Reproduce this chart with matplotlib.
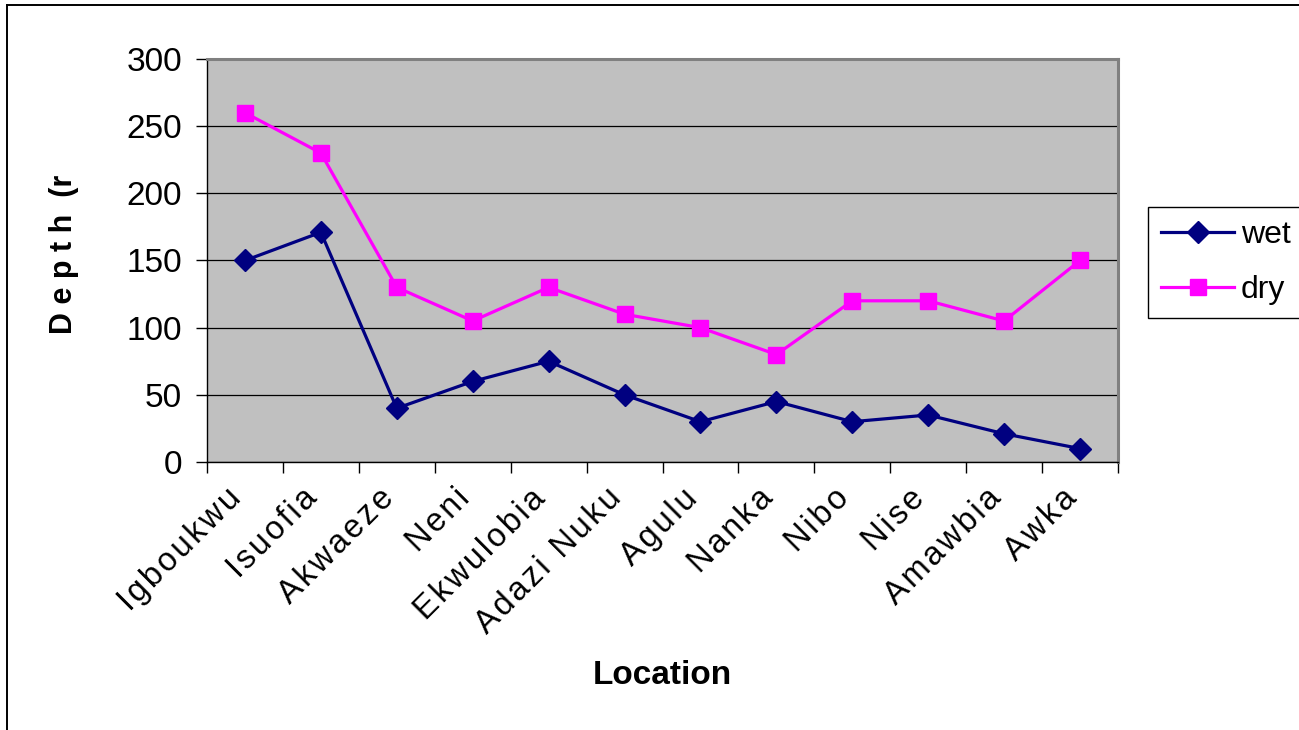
import matplotlib
matplotlib.use("Agg")
import matplotlib.pyplot as plt
from matplotlib.lines import Line2D
from matplotlib.transforms import ScaledTranslation
import numpy as np

plt.rcParams['font.family'] = ['Liberation Sans', 'DejaVu Sans']

locations = ["Igboukwu", "Isuofia", "Akwaeze", "Neni", "Ekwulobia", "Adazi Nuku",
             "Agulu", "Nanka", "Nibo", "Nise", "Amawbia", "Awka"]
wet = [150, 171, 40, 60, 75, 50, 30, 45, 30, 35, 21, 10]
dry = [260, 230, 130, 105, 130, 110, 100, 80, 120, 120, 105, 150]
y_ticks = [0, 50, 100, 150, 200, 250, 300]


def spaced(s, gap="\u200a"):
    """Loosen the letter spacing of a label."""
    return gap.join(s)


W, H = 1299, 730
fig = plt.figure(figsize=(W / 100, H / 100), dpi=100)
fig.patch.set_facecolor("white")

# outer chart frame (runs off the right and bottom edges)
fig.add_artist(Line2D([7 / W, 7 / W], [-0.1, 1 - 5 / H], transform=fig.transFigure,
                      color="black", lw=1.4))
fig.add_artist(Line2D([7 / W, 1.1], [1 - 5 / H, 1 - 5 / H], transform=fig.transFigure,
                      color="black", lw=1.4))

ax = fig.add_axes([207 / W, 1 - 462 / H, (1118 - 207) / W, (462 - 59) / H])
ax.set_facecolor("#C0C0C0")

x = np.arange(len(locations))
ax.plot(x, wet, color="#000080", lw=2.3, marker="D", ms=11.5, label="wet", zorder=3)
ax.plot(x, dry, color="#FF00FF", lw=2.3, marker="s", ms=11.5, label="dry", zorder=3)

ax.set_xlim(-0.5, len(locations) - 0.5)
ax.set_ylim(0, 300)
ax.set_yticks(y_ticks)
ax.set_yticklabels([str(v) for v in y_ticks], fontsize=24)
ax.grid(axis="y", color="black", lw=0.9)
ax.set_axisbelow(True)

ax.set_xticks(x)
ax.set_xticklabels([spaced(n) for n in locations], fontsize=23.5, rotation=45,
                   ha="right", va="center", rotation_mode="anchor")
ax.tick_params(axis="x", which="major", length=0, pad=20)
ax.set_xticks(np.arange(-0.5, len(locations), 1.0), minor=True)
ax.tick_params(axis="x", which="minor", length=8, width=1, direction="out")
ax.tick_params(axis="y", length=8, width=1, direction="out", pad=10)
shift = ScaledTranslation(-8 / 100, -4 / 100, fig.dpi_scale_trans)
for lab in ax.get_xticklabels():
    lab.set_transform(lab.get_transform() + shift)

for s in ("left", "bottom"):
    ax.spines[s].set_color("black")
    ax.spines[s].set_linewidth(1.0)
for s in ("top", "right"):
    ax.spines[s].set_color("#808080")
    ax.spines[s].set_linewidth(2.2)

fig.text(662 / W, 1 - 675 / H, "Location", fontsize=24, fontweight="bold",
         ha="center", va="center")
fig.text(64 / W, 1 - 254 / H, "D e p t h  (r", fontsize=22,
         fontweight="bold", rotation=90, ha="center", va="center")

leg = ax.legend(loc="upper left", bbox_to_anchor=(1148 / W, 1 - 207 / H),
                bbox_transform=fig.transFigure, fontsize=23, frameon=True,
                fancybox=False, framealpha=1, edgecolor="black",
                handlelength=2.3, handletextpad=0.2, borderpad=0.4,
                labelspacing=0.8, borderaxespad=0)
leg.get_frame().set_linewidth(1.0)

fig.savefig("out.png", dpi=100, facecolor="white")
